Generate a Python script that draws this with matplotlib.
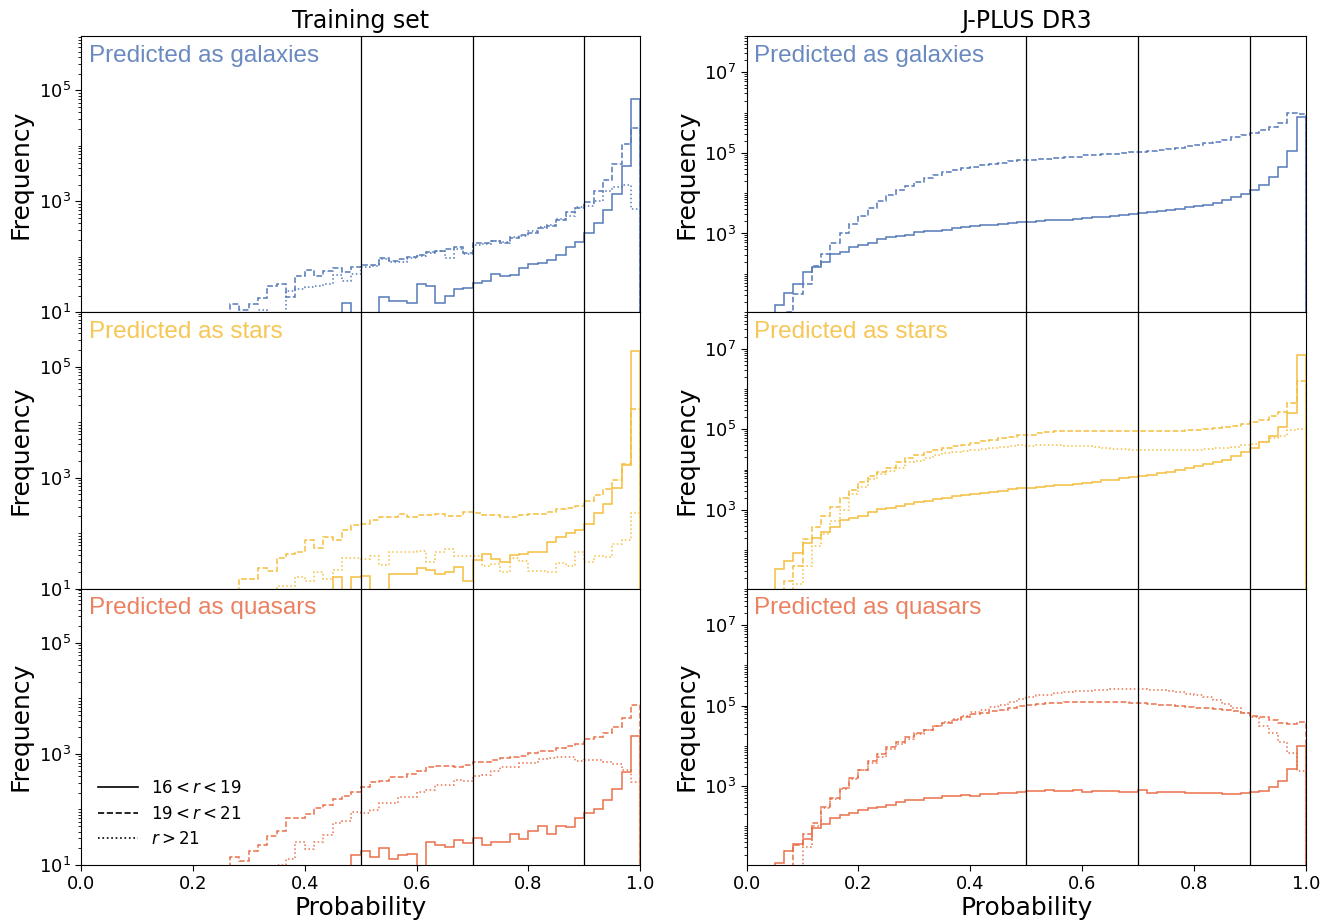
import numpy as np
import matplotlib
matplotlib.use("Agg")
import matplotlib.pyplot as plt
from matplotlib.lines import Line2D
from matplotlib.ticker import LogLocator, NullFormatter

# 60 probability bins on [0, 1]
EDGES = np.linspace(0.0, 1.0, 61)
CUTS = [0.5, 0.7, 0.9]

# --- Training set -----------------------------------------------------------
train_gal_bright = [0] * 28 + [15, 0, 0, 0, 19, 16, 16, 15, 32, 30, 15, 20, 26, 28,
    34, 36, 49, 45, 48, 62, 74, 78, 86, 106, 149, 182, 274, 405, 706, 1340, 4300, 71000]
train_gal_mid = [0] * 16 + [14, 11, 14, 18, 30, 32, 19, 46, 59, 46, 55, 62, 54, 66,
    70, 72, 97, 83, 92, 100, 106, 122, 126, 137, 151, 115, 180, 175, 194, 180, 222,
    247, 274, 324, 362, 464, 630, 755, 980, 1550, 2450, 4750, 11000, 21000]
train_gal_faint = [0] * 19 + [11, 0, 0, 24, 26, 29, 30, 32, 48, 36, 50,
    66, 68, 90, 81, 81, 97, 103, 118, 127, 97, 137, 111, 162, 168, 194, 186, 232,
    239, 293, 340, 372, 476, 550, 777, 833, 1020, 1550, 1780, 1950, 740]

train_star_bright = [0] * 27 + [16, 0, 16, 17, 0, 0, 18, 18, 18, 24, 22, 18, 20, 25,
    14, 33, 42, 34, 30, 40, 42, 46, 45, 68, 84, 99, 115, 146, 232, 338, 660, 1670, 195000]
train_star_mid = [0] * 17 + [15, 15, 24, 21, 36, 42, 45, 75, 55, 86, 75, 115, 140,
    147, 170, 199, 199, 222, 194, 215, 215, 224, 207, 207, 245, 228, 215, 215, 199,
    199, 211, 219, 219, 239, 268, 282, 306, 378, 493, 630, 890, 1790, 17000]
train_star_faint = [0] * 21 + [11, 11, 16, 14, 20, 15, 22, 35, 35, 34, 38, 27, 45,
    45, 46, 48, 30, 45, 52, 39, 39, 39, 26, 28, 20, 35, 32, 21, 21, 20, 29, 26, 46,
    30, 39, 37, 63, 76, 232]

train_qso_bright = [0] * 29 + [15, 18, 14, 20, 13, 15, 16, 0, 26, 23, 21, 28, 25, 30,
    23, 26, 26, 36, 29, 41, 50, 36, 50, 48, 71, 88, 101, 149, 238, 475, 2100]
train_qso_mid = [0] * 16 + [14, 12, 18, 23, 33, 41, 71, 71, 84, 108, 120, 152, 175,
    209, 258, 307, 330, 390, 390, 437, 483, 570, 600, 600, 570, 630, 725, 725, 790,
    845, 870, 930, 1020, 1120, 1150, 1280, 1410, 1520, 1870, 2000, 2400, 3030, 4390, 7700]
train_qso_faint = [0] * 21 + [10, 13, 26, 19, 26, 35, 58, 62, 91, 85, 97, 133, 133,
    169, 169, 210, 222, 277, 277, 340, 320, 405, 425, 500, 590, 590, 680, 680, 815,
    845, 870, 890, 755, 780, 780, 705, 660, 510, 315]

# --- J-PLUS DR3 -------------------------------------------------------------
jplus_gal_bright = [0] * 3 + [17, 34, 57, 110, 150, 200, 304, 355, 455, 520, 570, 720,
    795, 845, 925, 1080, 1120, 1170, 1250, 1400, 1420, 1500, 1590, 1650, 1750, 1800,
    1920, 1950, 2030, 2100, 2150, 2200, 2320, 2420, 2510, 2610, 2720, 2880, 3050,
    3160, 3350, 3550, 3830, 4140, 4460, 4810, 5200, 5730, 6950, 7940, 9620, 11900,
    16400, 25100, 44600, 109000, 760000]
jplus_gal_mid = [0] * 4 + [11, 31, 55, 158, 304, 570, 1020, 1700, 2680, 4300, 6300,
    8900, 11700, 15000, 19200, 24200, 28000, 33500, 37000, 41500, 44800, 50000,
    54000, 57000, 63000, 66000, 67000, 69500, 72000, 75000, 78000, 81000, 88000,
    89500, 93000, 96500, 100000, 104000, 108000, 113000, 119000, 127000, 136000,
    147000, 160000, 172000, 190000, 213000, 242000, 279000, 320000, 370000, 446000,
    556000, 1000000, 930000]
jplus_gal_faint = None

jplus_star_bright = [0] * 3 + [33, 52, 84, 153, 204, 282, 377, 553, 608, 708, 860,
    1020, 1080, 1230, 1380, 1520, 1680, 1850, 2000, 2200, 2330, 2470, 2610, 2830,
    2930, 3220, 3410, 3430, 3610, 3830, 4140, 4220, 4390, 4750, 5010, 5410, 5620,
    6070, 6690, 6960, 7360, 8100, 8910, 9800, 10800, 11900, 13600, 15200, 17400,
    21100, 26600, 34100, 48200, 66600, 114000, 258000, 6900000]
jplus_star_mid = [0] * 4 + [17, 41, 192, 377, 708, 1200, 2000, 3040, 4800, 6900, 8900,
    11200, 15200, 19200, 23300, 26800, 31100, 34000, 38700, 41200, 45600, 50000,
    55000, 60600, 64000, 70500, 73600, 79400, 85800, 89000, 91000, 92700, 92700,
    92700, 92700, 92700, 92700, 92700, 92700, 91000, 91000, 91000, 92700, 94500,
    98000, 102000, 108000, 114000, 123000, 135000, 152000, 170000, 211000, 274000,
    437000, 1580000]
jplus_star_faint = [0] * 5 + [14, 41, 123, 257, 520, 980, 2400, 3600, 5800, 7600,
    9300, 11200, 15000, 16500, 19200, 22400, 25600, 26800, 29300, 31100, 33000,
    34000, 36100, 37700, 40000, 39000, 40000, 40000, 40000, 39000, 39000, 37600,
    35500, 34000, 33000, 31600, 31000, 30300, 30300, 29900, 29900, 29900, 30300,
    31000, 32000, 33500, 35000, 37000, 40000, 43000, 48000, 60000, 67000, 98000, 104000]

jplus_qso_bright = [0] * 3 + [12, 25, 37, 49, 91, 117, 162, 196, 215, 261, 292, 310,
    336, 405, 464, 440, 510, 510, 560, 560, 595, 560, 620, 620, 656, 656, 710, 750,
    750, 780, 750, 750, 795, 720, 750, 750, 750, 720, 710, 780, 680, 720, 720, 710,
    668, 668, 656, 656, 645, 630, 680, 710, 750, 960, 1330, 2610, 9800]
jplus_qso_mid = [0] * 5 + [35, 66, 121, 300, 510, 905, 1550, 2500, 4200, 6200, 9100,
    12100, 16200, 20400, 25100, 31600, 37000, 44000, 53000, 62000, 65000, 75000,
    79000, 87000, 100000, 104000, 110000, 115000, 119000, 121000, 126000, 126000,
    126000, 126000, 124000, 121000, 119000, 116000, 110000, 106000, 102000, 98500,
    94500, 89100, 85800, 81300, 78000, 71200, 65800, 56200, 51000, 43800, 36300,
    35000, 38300]
jplus_qso_faint = [0] * 6 + [30, 100, 287, 490, 870, 1470, 2460, 3830, 5420, 8250,
    11400, 14700, 19600, 24500, 31600, 38300, 46400, 56200, 68100, 77400, 90900,
    104000, 121000, 147000, 163000, 178000, 188000, 203000, 211000, 224000, 229000,
    237000, 247000, 251000, 251000, 256000, 251000, 247000, 237000, 229000, 211000,
    196000, 181000, 163000, 139000, 110000, 85800, 64000, 51000, 31600, 20400,
    12100, 6800, 2370]

CLASSES = ["galaxies", "stars", "quasars"]
COLORS = {"galaxies": "#5579b8", "stars": "#f5bf3f", "quasars": "#e9704a"}
MAG_LABELS = [r"$16 < r < 19$", r"$19 < r < 21$", r"$r > 21$"]
STYLES = ["-", "--", ":"]

COLUMNS = {
    "Training set": [
        (train_gal_bright, train_gal_mid, train_gal_faint),
        (train_star_bright, train_star_mid, train_star_faint),
        (train_qso_bright, train_qso_mid, train_qso_faint),
    ],
    "J-PLUS DR3": [
        (jplus_gal_bright, jplus_gal_mid, jplus_gal_faint),
        (jplus_star_bright, jplus_star_mid, jplus_star_faint),
        (jplus_qso_bright, jplus_qso_mid, jplus_qso_faint),
    ],
}
YLIMS = {"Training set": (10, 9.5e5), "J-PLUS DR3": (11, 8e7)}
YTICKS = {"Training set": [1e1, 1e3, 1e5], "J-PLUS DR3": [1e3, 1e5, 1e7]}


def draw_panel(ax, series, cls, col):
    color = COLORS[cls]
    for counts, ls in zip(series, STYLES):
        if counts is None:
            continue
        ax.stairs(np.asarray(counts, dtype=float), EDGES, color=color,
                  linestyle=ls, linewidth=1.1)
    for x in CUTS:
        ax.axvline(x, color="black", linewidth=0.9)

    ax.set_yscale("log")
    ax.set_ylim(*YLIMS[col])
    ax.set_xlim(0, 1)
    ax.set_yticks(YTICKS[col])
    ax.yaxis.set_minor_locator(LogLocator(base=10, subs=np.arange(1, 10), numticks=30))
    ax.yaxis.set_minor_formatter(NullFormatter())
    ax.tick_params(axis="both", which="major", labelsize=13, length=4)
    ax.set_ylabel("Frequency", fontsize=18)

    ax.text(0.014, 0.968, f"Predicted as {cls}", transform=ax.transAxes,
            ha="left", va="top", fontsize=17.5, color=color, alpha=0.88,
            family="Liberation Sans")


def main():
    fig, axes = plt.subplots(3, 2, figsize=(13.36, 9.24), dpi=100, sharex="col")
    fig.subplots_adjust(left=0.0606, right=0.9775, top=0.961, bottom=0.0639,
                        hspace=0, wspace=0.19)

    for j, (col, panels) in enumerate(COLUMNS.items()):
        for i, (cls, series) in enumerate(zip(CLASSES, panels)):
            ax = axes[i, j]
            draw_panel(ax, series, cls, col)
            if i < 2:
                ax.tick_params(axis="x", which="both", bottom=False, labelbottom=False)
        axes[0, j].set_title(col, fontsize=17)
        axes[2, j].set_xlabel("Probability", fontsize=18, labelpad=2)
        axes[2, j].set_xticks(np.arange(0, 1.01, 0.2))

    handles = [Line2D([], [], color="black", linestyle=ls, linewidth=1.2) for ls in STYLES]
    axes[2, 0].legend(handles, MAG_LABELS, loc="lower left", frameon=False,
                      fontsize=12, handlelength=2.4, borderaxespad=0.6,
                      labelspacing=0.45)

    fig.savefig("out.png", dpi=100)
    plt.close(fig)


if __name__ == "__main__":
    main()
